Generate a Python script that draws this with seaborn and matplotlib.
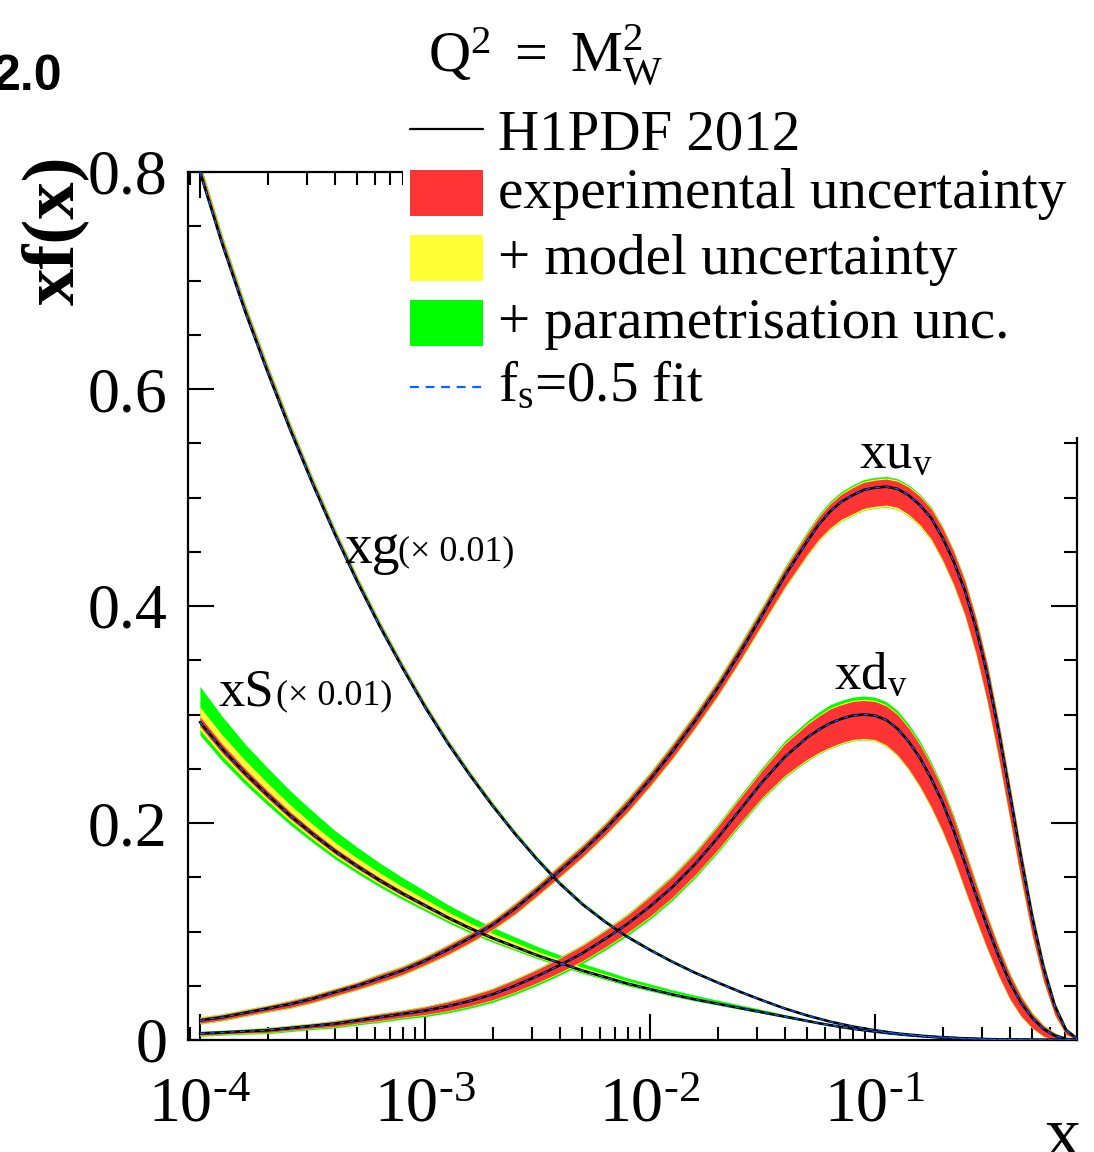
import numpy as np
import pandas as pd
import matplotlib
matplotlib.use("Agg")
import matplotlib.pyplot as plt
import seaborn as sns
from matplotlib.patches import Rectangle
from matplotlib.lines import Line2D
from matplotlib.ticker import LogLocator, NullFormatter, MultipleLocator

# ---------------- data ----------------
# log10(x) sampling: 0.1 steps from -4.0 to -1.3, then 0.05 steps to -0.1
LOGX = [-4.0, -3.9, -3.8, -3.7, -3.6, -3.5, -3.4, -3.3, -3.2, -3.1,
        -3.0, -2.9, -2.8, -2.7, -2.6, -2.5, -2.4, -2.3, -2.2, -2.1,
        -2.0, -1.9, -1.8, -1.7, -1.6, -1.5, -1.4, -1.3,
        -1.25, -1.2, -1.15, -1.1, -1.05, -1.0, -0.95, -0.9, -0.85, -0.8,
        -0.75, -0.7, -0.65, -0.6, -0.55, -0.5, -0.45, -0.4, -0.35, -0.3,
        -0.25, -0.2, -0.15, -0.1]

# ---- gluon (x 0.01) ----
xg = ([0.800, 0.733, 0.672, 0.616, 0.563, 0.513, 0.466, 0.422, 0.381, 0.343,
       0.307, 0.274, 0.244, 0.216, 0.190, 0.166, 0.144, 0.125, 0.109, 0.095,
       0.083, 0.072, 0.062, 0.053, 0.0445, 0.0365, 0.029, 0.0225] +
      [0.0197, 0.017, 0.0147, 0.0125, 0.0107, 0.009, 0.0075, 0.006, 0.005, 0.004,
       0.0032, 0.0025, 0.002, 0.0015, 0.0011, 0.0008, 0.0006, 0.0004, 0.0003, 0.0002,
       0.00015, 0.0001, 0.00005, 0.0])
xg_exp_up = ([0.006, 0.0055, 0.005, 0.0047, 0.0043, 0.004, 0.0037, 0.0034, 0.0031, 0.0029,
              0.0027, 0.0025, 0.0023, 0.0021, 0.0019, 0.0017, 0.0015, 0.0014, 0.0013, 0.0012,
              0.0011, 0.001, 0.0009, 0.0008, 0.0007, 0.0006, 0.0005, 0.0004] +
             [0.0004, 0.0003, 0.0003, 0.0002, 0.0002, 0.0002, 0.0001, 0.0001, 0.0001, 0.0001,
              0.0, 0.0, 0.0, 0.0, 0.0, 0.0, 0.0, 0.0, 0.0, 0.0, 0.0, 0.0, 0.0, 0.0])
xg_exp_dn = ([0.003, 0.0028, 0.0025, 0.0024, 0.0022, 0.002, 0.0019, 0.0017, 0.0016, 0.0015,
              0.0014, 0.0013, 0.0012, 0.0011, 0.001, 0.0009, 0.0008, 0.0007, 0.0007, 0.0006,
              0.0006, 0.0005, 0.0005, 0.0004, 0.0004, 0.0003, 0.0003, 0.0002] +
             [0.0002, 0.0002, 0.0001, 0.0001, 0.0001, 0.0001, 0.0, 0.0, 0.0, 0.0,
              0.0, 0.0, 0.0, 0.0, 0.0, 0.0, 0.0, 0.0, 0.0, 0.0, 0.0, 0.0, 0.0, 0.0])
xg_mod_up = ([0.0008, 0.0008, 0.0007, 0.0007, 0.0006, 0.0006, 0.0006, 0.0005, 0.0005, 0.0005,
              0.0004, 0.0004, 0.0004, 0.0004, 0.0003, 0.0003, 0.0003, 0.0003, 0.0003, 0.0002,
              0.0002, 0.0002, 0.0002, 0.0002, 0.0002, 0.0001, 0.0001, 0.0001] +
             [0.0001, 0.0001, 0.0001, 0.0001, 0.0, 0.0, 0.0, 0.0, 0.0, 0.0,
              0.0, 0.0, 0.0, 0.0, 0.0, 0.0, 0.0, 0.0, 0.0, 0.0, 0.0, 0.0, 0.0, 0.0])
xg_mod_dn = ([0.0006, 0.0006, 0.0005, 0.0005, 0.0005, 0.0004, 0.0004, 0.0004, 0.0004, 0.0003,
              0.0003, 0.0003, 0.0003, 0.0003, 0.0002, 0.0002, 0.0002, 0.0002, 0.0002, 0.0002,
              0.0001, 0.0001, 0.0001, 0.0001, 0.0001, 0.0001, 0.0001, 0.0001] +
             [0.0, 0.0, 0.0, 0.0, 0.0, 0.0, 0.0, 0.0, 0.0, 0.0,
              0.0, 0.0, 0.0, 0.0, 0.0, 0.0, 0.0, 0.0, 0.0, 0.0, 0.0, 0.0, 0.0, 0.0])
xg_par_up = ([0.002, 0.0019, 0.0018, 0.0017, 0.0016, 0.0015, 0.0014, 0.0013, 0.0012, 0.0011,
              0.001, 0.001, 0.0009, 0.0009, 0.0008, 0.0008, 0.0007, 0.0007, 0.0006, 0.0006,
              0.0005, 0.0005, 0.0004, 0.0004, 0.0003, 0.0003, 0.0003, 0.0002] +
             [0.0002, 0.0002, 0.0002, 0.0002, 0.0001, 0.0001, 0.0001, 0.0001, 0.0, 0.0,
              0.0, 0.0, 0.0, 0.0, 0.0, 0.0, 0.0, 0.0, 0.0, 0.0, 0.0, 0.0, 0.0, 0.0])
xg_par_dn = ([0.0006, 0.0006, 0.0005, 0.0005, 0.0005, 0.0004, 0.0004, 0.0004, 0.0004, 0.0003,
              0.0003, 0.0003, 0.0003, 0.0003, 0.0002, 0.0002, 0.0002, 0.0002, 0.0002, 0.0002,
              0.0001, 0.0001, 0.0001, 0.0001, 0.0001, 0.0001, 0.0001, 0.0001] +
             [0.0, 0.0, 0.0, 0.0, 0.0, 0.0, 0.0, 0.0, 0.0, 0.0,
              0.0, 0.0, 0.0, 0.0, 0.0, 0.0, 0.0, 0.0, 0.0, 0.0, 0.0, 0.0, 0.0, 0.0])

# ---- sea quarks (x 0.01) ----
xS = ([0.293, 0.268, 0.246, 0.226, 0.207, 0.190, 0.174, 0.160, 0.147, 0.135,
       0.124, 0.113, 0.103, 0.094, 0.086, 0.078, 0.071, 0.064, 0.058, 0.052,
       0.047, 0.042, 0.0375, 0.0335, 0.0295, 0.0255, 0.0215, 0.0175] +
      [0.0155, 0.0137, 0.012, 0.0104, 0.009, 0.0077, 0.0065, 0.0054, 0.0044, 0.0036,
       0.0029, 0.0022, 0.0017, 0.0012, 0.0009, 0.0006, 0.0004, 0.0003, 0.0002, 0.0001,
       0.0, 0.0, 0.0, 0.0])
xS_exp_up = ([0.005, 0.0045, 0.0042, 0.0038, 0.0035, 0.0032, 0.003, 0.0027, 0.0025, 0.0023,
              0.0021, 0.0019, 0.0018, 0.0016, 0.0015, 0.0013, 0.0012, 0.0011, 0.001, 0.0009,
              0.0008, 0.0007, 0.0007, 0.0006, 0.0005, 0.0004, 0.0004, 0.0003] +
             [0.0003, 0.0002, 0.0002, 0.0002, 0.0002, 0.0001, 0.0001, 0.0001, 0.0001, 0.0001,
              0.0, 0.0, 0.0, 0.0, 0.0, 0.0, 0.0, 0.0, 0.0, 0.0, 0.0, 0.0, 0.0, 0.0])
xS_exp_dn = ([0.004, 0.0037, 0.0034, 0.0032, 0.0029, 0.0027, 0.0024, 0.0022, 0.0021, 0.0019,
              0.0017, 0.0016, 0.0014, 0.0013, 0.0012, 0.0011, 0.001, 0.0009, 0.0008, 0.0007,
              0.0007, 0.0006, 0.0005, 0.0005, 0.0004, 0.0004, 0.0003, 0.0002] +
             [0.0002, 0.0002, 0.0002, 0.0002, 0.0001, 0.0001, 0.0001, 0.0001, 0.0001, 0.0,
              0.0, 0.0, 0.0, 0.0, 0.0, 0.0, 0.0, 0.0, 0.0, 0.0, 0.0, 0.0, 0.0, 0.0])
xS_mod_up = ([0.009, 0.0085, 0.0078, 0.0072, 0.0065, 0.0058, 0.0053, 0.005, 0.0046, 0.0042,
              0.0039, 0.0035, 0.0031, 0.0029, 0.0026, 0.0024, 0.0022, 0.002, 0.0018, 0.0016,
              0.0014, 0.0013, 0.0011, 0.001, 0.0009, 0.0008, 0.0006, 0.0005] +
             [0.0004, 0.0004, 0.0003, 0.0003, 0.0003, 0.0002, 0.0002, 0.0002, 0.0001, 0.0001,
              0.0001, 0.0, 0.0, 0.0, 0.0, 0.0, 0.0, 0.0, 0.0, 0.0, 0.0, 0.0, 0.0, 0.0])
xS_mod_dn = ([0.003, 0.0028, 0.0026, 0.0023, 0.0021, 0.0019, 0.0018, 0.0016, 0.0014, 0.0013,
              0.0013, 0.0011, 0.0011, 0.001, 0.0009, 0.0008, 0.0007, 0.0006, 0.0006, 0.0005,
              0.0004, 0.0004, 0.0004, 0.0003, 0.0003, 0.0002, 0.0002, 0.0002] +
             [0.0002, 0.0002, 0.0002, 0.0001, 0.0001, 0.0001, 0.0001, 0.0, 0.0, 0.0,
              0.0, 0.0, 0.0, 0.0, 0.0, 0.0, 0.0, 0.0, 0.0, 0.0, 0.0, 0.0, 0.0, 0.0])
xS_par_up = ([0.019, 0.017, 0.015, 0.014, 0.013, 0.012, 0.0107, 0.0099, 0.0089, 0.0083,
              0.0075, 0.0066, 0.0061, 0.0055, 0.0049, 0.0045, 0.004, 0.0035, 0.0032, 0.0028,
              0.0025, 0.0022, 0.002, 0.0017, 0.0015, 0.0013, 0.001, 0.0008] +
             [0.0007, 0.0006, 0.0005, 0.0005, 0.0004, 0.0004, 0.0003, 0.0003, 0.0002, 0.0002,
              0.0002, 0.0001, 0.0001, 0.0001, 0.0, 0.0, 0.0, 0.0, 0.0, 0.0, 0.0, 0.0, 0.0, 0.0])
xS_par_dn = ([0.005, 0.0046, 0.0042, 0.0038, 0.0035, 0.0032, 0.0029, 0.0027, 0.0025, 0.0023,
              0.002, 0.0019, 0.0017, 0.0015, 0.0013, 0.0012, 0.0011, 0.0011, 0.0009, 0.0009,
              0.0008, 0.0007, 0.0006, 0.0005, 0.0005, 0.0004, 0.0003, 0.0002] +
             [0.0002, 0.0002, 0.0002, 0.0001, 0.0001, 0.0001, 0.0001, 0.0001, 0.0, 0.0,
              0.0, 0.0, 0.0, 0.0, 0.0, 0.0, 0.0, 0.0, 0.0, 0.0, 0.0, 0.0, 0.0, 0.0])

# ---- u valence ----
xuv = ([0.018, 0.021, 0.025, 0.029, 0.033, 0.038, 0.044, 0.050, 0.057, 0.064,
        0.073, 0.083, 0.094, 0.106, 0.121, 0.138, 0.156, 0.174, 0.194, 0.216,
        0.240, 0.266, 0.294, 0.324, 0.357, 0.392, 0.428, 0.460] +
       [0.475, 0.487, 0.496, 0.502, 0.507, 0.509, 0.510, 0.508, 0.502, 0.493,
        0.481, 0.463, 0.441, 0.414, 0.379, 0.336, 0.284, 0.226, 0.167, 0.112,
        0.066, 0.031, 0.009, 0.001])
xuv_exp_up = ([0.0025, 0.0025, 0.0025, 0.0025, 0.003, 0.003, 0.003, 0.003, 0.0035, 0.0035,
               0.0035, 0.004, 0.004, 0.004, 0.0045, 0.0045, 0.005, 0.005, 0.005, 0.0055,
               0.0055, 0.006, 0.006, 0.006, 0.0065, 0.0065, 0.0065, 0.007] +
              [0.007, 0.007, 0.007, 0.007, 0.007, 0.007, 0.007, 0.007, 0.0075, 0.008,
               0.0085, 0.009, 0.009, 0.009, 0.009, 0.009, 0.0085, 0.008, 0.007, 0.006,
               0.0045, 0.003, 0.002, 0.001])
xuv_exp_dn = ([0.0025, 0.0025, 0.0025, 0.0025, 0.003, 0.003, 0.003, 0.003, 0.0035, 0.0035,
               0.0035, 0.004, 0.004, 0.004, 0.0045, 0.0045, 0.005, 0.005, 0.005, 0.0055,
               0.0055, 0.006, 0.006, 0.0065, 0.007, 0.008, 0.010, 0.012] +
              [0.0135, 0.015, 0.016, 0.017, 0.017, 0.017, 0.017, 0.017, 0.0175, 0.018,
               0.019, 0.020, 0.021, 0.022, 0.023, 0.024, 0.0235, 0.022, 0.019, 0.016,
               0.012, 0.008, 0.004, 0.001])
xuv_mod_up = ([0.0005, 0.0005, 0.0005, 0.0005, 0.0005, 0.0005, 0.0005, 0.0005, 0.0006, 0.0006,
               0.0006, 0.0006, 0.0006, 0.0007, 0.0007, 0.0007, 0.0007, 0.0007, 0.0008, 0.0008,
               0.0008, 0.0008, 0.0008, 0.0008, 0.0009, 0.0009, 0.0009, 0.001] +
              [0.001, 0.001, 0.001, 0.001, 0.001, 0.001, 0.001, 0.001, 0.001, 0.001,
               0.001, 0.001, 0.001, 0.001, 0.001, 0.001, 0.0009, 0.0008, 0.0007, 0.0006,
               0.0005, 0.0003, 0.0002, 0.0001])
xuv_mod_dn = ([0.0005, 0.0005, 0.0005, 0.0005, 0.0005, 0.0005, 0.0005, 0.0005, 0.0006, 0.0006,
               0.0006, 0.0006, 0.0006, 0.0007, 0.0007, 0.0007, 0.0007, 0.0007, 0.0008, 0.0008,
               0.0008, 0.0008, 0.0008, 0.0009, 0.001, 0.0011, 0.0012, 0.0013] +
              [0.0014, 0.0015, 0.0015, 0.0015, 0.0015, 0.0015, 0.0015, 0.0015, 0.0015, 0.0014,
               0.0014, 0.0013, 0.0013, 0.0012, 0.0012, 0.0011, 0.0011, 0.001, 0.0009, 0.0008,
               0.0006, 0.0004, 0.0002, 0.0001])
xuv_par_up = ([0.0003, 0.0003, 0.0003, 0.0003, 0.0003, 0.0003, 0.0003, 0.0003, 0.0004, 0.0004,
               0.0004, 0.0004, 0.0004, 0.0004, 0.0005, 0.0005, 0.0005, 0.0006, 0.0006, 0.0007,
               0.0007, 0.0008, 0.0008, 0.0009, 0.001, 0.0011, 0.0012, 0.0013] +
              [0.0014, 0.0015, 0.0015, 0.0015, 0.0015, 0.0015, 0.0014, 0.0013, 0.0012, 0.0011,
               0.001, 0.0009, 0.0008, 0.0007, 0.0007, 0.0006, 0.0006, 0.0005, 0.0005, 0.0004,
               0.0003, 0.0002, 0.0001, 0.0001])
xuv_par_dn = ([0.0004, 0.0004, 0.0004, 0.0004, 0.0004, 0.0004, 0.0004, 0.0004, 0.0004, 0.0004,
               0.0004, 0.0004, 0.0004, 0.0004, 0.0004, 0.0004, 0.0004, 0.0004, 0.0004, 0.0004,
               0.0004, 0.0004, 0.0004, 0.0004, 0.0004, 0.0004, 0.0004, 0.0004] +
              [0.0004, 0.0004, 0.0004, 0.0004, 0.0004, 0.0004, 0.0004, 0.0004, 0.0004, 0.0004,
               0.0004, 0.0004, 0.0004, 0.0004, 0.0004, 0.0004, 0.0004, 0.0003, 0.0003, 0.0002,
               0.0002, 0.0001, 0.0001, 0.0])

# ---- d valence ----
xdv = ([0.006, 0.007, 0.008, 0.009, 0.011, 0.013, 0.015, 0.018, 0.021, 0.024,
        0.027, 0.031, 0.036, 0.042, 0.050, 0.059, 0.069, 0.080, 0.093, 0.107,
        0.123, 0.141, 0.162, 0.186, 0.212, 0.238, 0.261, 0.279] +
       [0.286, 0.292, 0.296, 0.299, 0.300, 0.299, 0.295, 0.287, 0.275, 0.260,
        0.241, 0.219, 0.193, 0.163, 0.133, 0.104, 0.077, 0.053, 0.034, 0.020,
        0.010, 0.004, 0.001, 0.0])
xdv_exp_up = ([0.0015, 0.0015, 0.0015, 0.002, 0.002, 0.002, 0.0025, 0.0025, 0.003, 0.003,
               0.0035, 0.004, 0.0045, 0.005, 0.0055, 0.006, 0.0065, 0.007, 0.0075, 0.008,
               0.009, 0.0095, 0.010, 0.0105, 0.011, 0.011, 0.012, 0.012] +
              [0.0125, 0.013, 0.013, 0.013, 0.013, 0.013, 0.013, 0.013, 0.0125, 0.012,
               0.012, 0.012, 0.0115, 0.011, 0.010, 0.009, 0.008, 0.007, 0.0055, 0.004,
               0.003, 0.002, 0.001, 0.0005])
xdv_exp_dn = ([0.0015, 0.0015, 0.0015, 0.002, 0.002, 0.002, 0.0025, 0.0025, 0.003, 0.003,
               0.0035, 0.004, 0.0045, 0.005, 0.0055, 0.006, 0.0065, 0.007, 0.0075, 0.008,
               0.009, 0.0095, 0.010, 0.011, 0.012, 0.014, 0.017, 0.020] +
              [0.021, 0.022, 0.022, 0.022, 0.022, 0.022, 0.023, 0.024, 0.025, 0.026,
               0.026, 0.026, 0.025, 0.024, 0.022, 0.020, 0.0175, 0.015, 0.012, 0.009,
               0.0065, 0.004, 0.002, 0.0005])
xdv_mod_up = ([0.0003, 0.0003, 0.0003, 0.0003, 0.0003, 0.0003, 0.0004, 0.0004, 0.0004, 0.0004,
               0.0005, 0.0005, 0.0005, 0.0006, 0.0006, 0.0006, 0.0007, 0.0007, 0.0007, 0.0008,
               0.0008, 0.0008, 0.0009, 0.0009, 0.001, 0.001, 0.001, 0.001] +
              [0.001, 0.001, 0.001, 0.001, 0.001, 0.001, 0.001, 0.001, 0.001, 0.001,
               0.001, 0.001, 0.001, 0.001, 0.0009, 0.0009, 0.0008, 0.0007, 0.0006, 0.0005,
               0.0004, 0.0003, 0.0002, 0.0001])
xdv_mod_dn = ([0.0003, 0.0003, 0.0003, 0.0003, 0.0003, 0.0003, 0.0004, 0.0004, 0.0004, 0.0004,
               0.0005, 0.0005, 0.0005, 0.0006, 0.0006, 0.0006, 0.0007, 0.0007, 0.0007, 0.0008,
               0.0008, 0.0008, 0.0009, 0.0009, 0.001, 0.001, 0.001, 0.001] +
              [0.001, 0.001, 0.001, 0.001, 0.001, 0.001, 0.001, 0.001, 0.001, 0.001,
               0.001, 0.001, 0.001, 0.001, 0.0009, 0.0009, 0.0008, 0.0007, 0.0006, 0.0005,
               0.0004, 0.0003, 0.0002, 0.0001])
xdv_par_up = ([0.0003, 0.0003, 0.0003, 0.0003, 0.0003, 0.0003, 0.0003, 0.0003, 0.0003, 0.0003,
               0.0003, 0.0003, 0.0003, 0.0003, 0.0004, 0.0004, 0.0005, 0.0005, 0.0006, 0.0007,
               0.0008, 0.0009, 0.001, 0.0012, 0.0014, 0.0016, 0.0019, 0.0022] +
              [0.0028, 0.003, 0.003, 0.003, 0.003, 0.003, 0.0029, 0.0028, 0.0026, 0.0025,
               0.0022, 0.002, 0.0018, 0.0016, 0.0014, 0.0012, 0.001, 0.0009, 0.0007, 0.0006,
               0.0004, 0.0003, 0.0002, 0.0001])
xdv_par_dn = ([0.0008, 0.0008, 0.0008, 0.0009, 0.001, 0.001, 0.0011, 0.0012, 0.0013, 0.0014,
               0.0015, 0.0016, 0.0017, 0.0018, 0.0019, 0.002, 0.002, 0.002, 0.002, 0.002,
               0.002, 0.002, 0.0019, 0.0017, 0.0015, 0.0012, 0.001, 0.0008] +
              [0.0005, 0.0005, 0.0005, 0.0005, 0.0004, 0.0004, 0.0004, 0.0004, 0.0004, 0.0004,
               0.0004, 0.0004, 0.0004, 0.0004, 0.0003, 0.0003, 0.0003, 0.0003, 0.0002, 0.0002,
               0.0001, 0.0001, 0.0, 0.0])

# f_s = 0.5 fit (coincides with the central curves within the line width)
xg_fs05 = list(xg)
xS_fs05 = list(xS)
xuv_fs05 = list(xuv)
xdv_fs05 = list(xdv)

X_TICKS = [1e-4, 1e-3, 1e-2, 1e-1]
X_TICKLABELS = ['$\\mathregular{10^{\u2010 4}}$', '$\\mathregular{10^{\u2010 3}}$',
                '$\\mathregular{10^{\u2010 2}}$', '$\\mathregular{10^{\u2010 1}}$']
Y_TICKS = [0.0, 0.2, 0.4, 0.6, 0.8]
Y_TICKLABELS = ['0', '0.2', '0.4', '0.6', '0.8']

LEGEND_LABELS = ['H1PDF 2012', 'experimental uncertainty', '+ model uncertainty',
                 '+ parametrisation unc.', r'$\mathregular{f_s}$=0.5 fit']

RED = '#FF3535'
YELLOW = '#FFFF33'
GREEN = '#00FF00'
BLUE = '#0A64FF'

# ---------------- style ----------------
sns.set_theme(style="ticks")
plt.rcParams.update({
    "font.family": ["Liberation Serif", "DejaVu Serif"],
    "mathtext.fontset": "custom",
    "mathtext.rm": "Liberation Serif",
    "mathtext.it": "Liberation Serif:italic",
    "mathtext.bf": "Liberation Serif:bold",
    "axes.linewidth": 1.6,
    "axes.edgecolor": "black",
    "text.color": "black",
    "axes.labelcolor": "black",
    "xtick.color": "black",
    "ytick.color": "black",
    "xtick.labelcolor": "black",
    "ytick.labelcolor": "black",
})

W, H = 1094, 1152
fig = plt.figure(figsize=(W / 100, H / 100), dpi=100)
L, R, T, B = 188, 1077, 172, 1040
ax = fig.add_axes([L / W, 1 - B / H, (R - L) / W, (B - T) / H])
ax.set_xscale('log')

X = np.array([10.0 ** v for v in LOGX])

pdfs = [
    ('xS', xS, xS_exp_up, xS_exp_dn, xS_mod_up, xS_mod_dn, xS_par_up, xS_par_dn, xS_fs05),
    ('xg', xg, xg_exp_up, xg_exp_dn, xg_mod_up, xg_mod_dn, xg_par_up, xg_par_dn, xg_fs05),
    ('xdv', xdv, xdv_exp_up, xdv_exp_dn, xdv_mod_up, xdv_mod_dn, xdv_par_up, xdv_par_dn, xdv_fs05),
    ('xuv', xuv, xuv_exp_up, xuv_exp_dn, xuv_mod_up, xuv_mod_dn, xuv_par_up, xuv_par_dn, xuv_fs05),
]

rows_c, rows_f = [], []
for name, c, eu, ed, mu, md, pu, pd_, fs in pdfs:
    for arr in (c, eu, ed, mu, md, pu, pd_, fs):
        assert len(arr) == len(LOGX), (name, len(arr))
    c = np.array(c)
    hi_r = c + np.array(eu)
    lo_r = c - np.array(ed)
    hi_y = hi_r + np.array(mu)
    lo_y = lo_r - np.array(md)
    hi_g = hi_y + np.array(pu)
    lo_g = lo_y - np.array(pd_)
    ax.fill_between(X, lo_g, hi_g, color=GREEN, lw=0, zorder=1)
    ax.fill_between(X, lo_y, hi_y, color=YELLOW, lw=0, zorder=1.1)
    ax.fill_between(X, lo_r, hi_r, color=RED, lw=0, zorder=1.2)
    rows_c.append(pd.DataFrame({'x': X, 'y': c, 'pdf': name}))
    rows_f.append(pd.DataFrame({'x': X, 'y': np.array(fs), 'pdf': name}))

df_c = pd.concat(rows_c, ignore_index=True)
df_f = pd.concat(rows_f, ignore_index=True)
sns.lineplot(data=df_c, x='x', y='y', units='pdf', estimator=None, sort=False,
             color='black', lw=1.9, ax=ax, legend=False, zorder=3)
sns.lineplot(data=df_f, x='x', y='y', units='pdf', estimator=None, sort=False,
             color=BLUE, lw=0.9, ax=ax, legend=False, zorder=4)
for ln in ax.lines[-4:]:
    ln.set_linestyle((0, (4, 4)))

ax.set_xlim(10 ** -4.053, 10 ** -0.102)
ax.set_ylim(0, 0.8)
ax.set_xlabel('')
ax.set_ylabel('')

ax.set_xticks(X_TICKS)
ax.set_xticklabels(X_TICKLABELS)
ax.xaxis.set_minor_locator(LogLocator(base=10, subs=np.arange(2, 10), numticks=30))
ax.xaxis.set_minor_formatter(NullFormatter())
ax.set_yticks(Y_TICKS)
ax.set_yticklabels(Y_TICKLABELS)
ax.yaxis.set_minor_locator(MultipleLocator(0.05))

ax.tick_params(which='both', direction='in', top=True, right=True, width=1.5,
               labelsize=46, colors='black')
ax.tick_params(which='major', length=19)
ax.tick_params(which='minor', length=9.5)
ax.tick_params(axis='x', which='major', pad=27)
ax.tick_params(axis='y', which='major', pad=15)
for sp in ax.spines.values():
    sp.set_visible(True)
    sp.set_linewidth(1.6)
    sp.set_color('black')

# ---------------- labels on curves ----------------
def px2data(px, py):
    lx = (px - 200.5) / 225.0 - 4.0
    return 10 ** lx, (1040 - py) / 1085.0

x0, y0 = px2data(345, 563)
ax.text(x0, y0, 'xg', fontsize=40, ha='left', va='baseline', zorder=5)
x0, y0 = px2data(399, 560)
ax.text(x0, y0, '(× 0.01)', fontsize=26, ha='left', va='baseline', zorder=5)
x0, y0 = px2data(219, 706)
ax.text(x0, y0, 'xS', fontsize=38, ha='left', va='baseline', zorder=5)
x0, y0 = px2data(277, 704)
ax.text(x0, y0, '(× 0.01)', fontsize=26, ha='left', va='baseline', zorder=5)
x0, y0 = px2data(860, 468)
ax.text(x0, y0, r'$\mathregular{xu_v}$', fontsize=38, ha='left', va='baseline', zorder=5)
x0, y0 = px2data(835, 689)
ax.text(x0, y0, r'$\mathregular{xd_v}$', fontsize=38, ha='left', va='baseline', zorder=5)

# ---------------- figure texts & legend ----------------
def fx(px):
    return px / W

def fy(py):
    return 1 - py / H

# white legend area hiding the top-right part of the frame
fig.add_artist(Rectangle((fx(403), fy(437)), 1 - fx(403), 437 / H, facecolor='white',
                         edgecolor='none', transform=fig.transFigure, zorder=5))

fig.text(fx(55), fy(230), 'xf(x)', fontsize=54, fontweight='bold', rotation=90,
         ha='center', va='center')
fig.text(fx(1062), fy(1106), 'x', fontsize=52, ha='center', va='top')
fig.text(fx(-8), fy(90), '2.0', fontsize=36, fontweight='bold',
         family=['Liberation Sans', 'DejaVu Sans'], ha='left', va='baseline')
fig.text(fx(428), fy(72), r'$\mathregular{Q^2\ =\ M_W^2}$', fontsize=42,
         ha='left', va='baseline', zorder=6)

fig.add_artist(Line2D([fx(410), fx(483)], [fy(129), fy(129)], color='black', lw=1.6,
                      transform=fig.transFigure, zorder=6))
for (top, col) in [(170, RED), (235, YELLOW), (300, GREEN)]:
    fig.add_artist(Rectangle((fx(410), fy(top + 46)), 73 / W, 46 / H, facecolor=col,
                             edgecolor='none', transform=fig.transFigure, zorder=6))
fig.add_artist(Line2D([fx(410), fx(483)], [fy(387), fy(387)], color=BLUE, lw=1.6,
                      linestyle=(0, (4, 3)), transform=fig.transFigure, zorder=6))
for lab, base in zip(LEGEND_LABELS, [149, 208, 274, 338, 401]):
    fig.text(fx(498), fy(base), lab, fontsize=41, ha='left', va='baseline', zorder=6)

fig.savefig('out.png', dpi=100)
